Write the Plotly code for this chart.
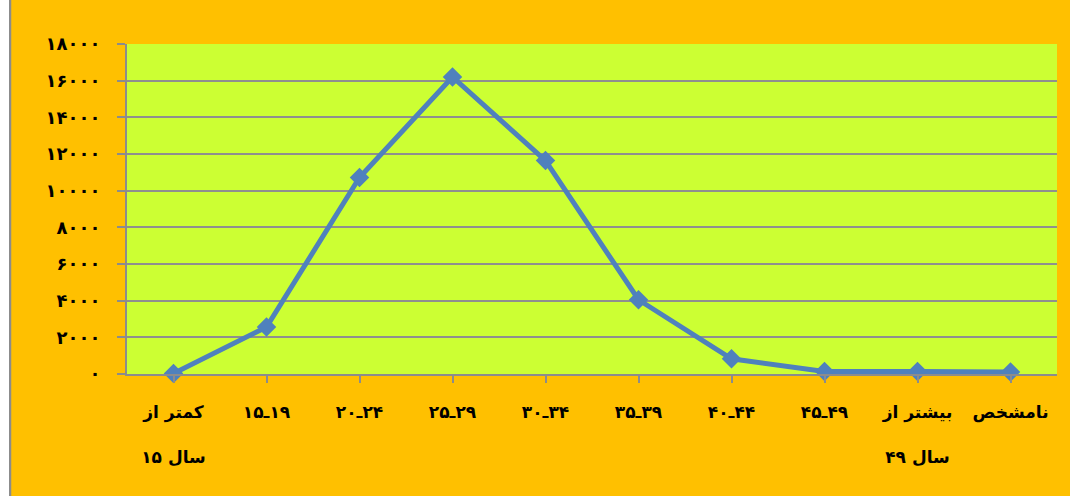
import plotly.graph_objects as go

categories = [
    "کمتر از<br><br>۱۵ سال",
    "\u202d۱۵ـ۱۹\u202c",
    "\u202d۲۰ـ۲۴\u202c",
    "\u202d۲۵ـ۲۹\u202c",
    "\u202d۳۰ـ۳۴\u202c",
    "\u202d۳۵ـ۳۹\u202c",
    "\u202d۴۰ـ۴۴\u202c",
    "\u202d۴۵ـ۴۹\u202c",
    "بیشتر از<br><br>۴۹ سال",
    "نامشخص",
]
values = [30, 2560, 10720, 16200, 11640, 4050, 830, 140, 130, 110]

y_tickvals = [0, 2000, 4000, 6000, 8000, 10000, 12000, 14000, 16000, 18000]
y_ticktext = ["۰", "۲۰۰۰", "۴۰۰۰", "۶۰۰۰", "۸۰۰۰", "۱۰۰۰۰", "۱۲۰۰۰", "۱۴۰۰۰", "۱۶۰۰۰", "۱۸۰۰۰"]

OFF = 9  # white strip at the left of the page
W, H = 1070 - OFF, 496
ML, MR, MT, MB = 127 - OFF, 13, 44, 122
PW, PH = W - ML - MR, H - MT - MB

fig = go.Figure()
fig.add_trace(go.Scatter(
    x=list(range(len(categories))),
    y=values,
    mode="lines+markers",
    line=dict(color="#4F81BD", width=5),
    marker=dict(symbol="diamond", size=15, color="#4F81BD"),
    cliponaxis=False,
    hoverinfo="skip",
))

font_main = "DejaVu Sans, Noto Sans, sans-serif"

def px_x(p):
    return (p - ML) / PW

def px_y(p):
    return (H - MB - p) / PH

fig.update_layout(
    width=W, height=H,
    margin=dict(l=ML, r=MR, t=MT, b=MB, pad=0),
    paper_bgcolor="#FFC000",
    plot_bgcolor="#CCFF33",
    showlegend=False,
    font=dict(family=font_main, size=16, color="#000000"),
    xaxis=dict(
        range=[-0.5, len(categories) - 0.5],
        tickmode="array",
        tickvals=list(range(len(categories))),
        ticktext=[f"<b>{c}</b>" for c in categories],
        tickangle=0,
        tickson="boundaries",
        ticks="outside", ticklen=7, tickcolor="#8C8C8C", tickwidth=1.5,
        showline=True, linecolor="#8C8C8C", linewidth=2,
        showgrid=False, zeroline=False,
        tickfont=dict(size=17, family=font_main, color="#000000"),
        ticklabelstandoff=15,
    ),
    yaxis=dict(
        range=[0, 18000],
        tickmode="array",
        tickvals=y_tickvals,
        ticktext=[f"<b>{t}</b>" for t in y_ticktext],
        ticks="outside", ticklen=8, tickcolor="#8C8C8C", tickwidth=1.5,
        showline=True, linecolor="#8C8C8C", linewidth=2,
        showgrid=True, gridcolor="#8F8F8F", gridwidth=2,
        zeroline=False,
        tickfont=dict(size=18, family=font_main, color="#000000"),
        ticklabelstandoff=13,
    ),
    shapes=[
        dict(type="line", xref="paper", yref="paper",
             x0=px_x(1), x1=px_x(1), y0=px_y(H + 5), y1=px_y(-5),
             line=dict(color="#8C8C8C", width=2.5), layer="above"),
    ],
)

post = (
    "document.body.style.margin='0';"
    "document.body.style.background='#FFFFFF';"
    "var gd=document.getElementsByClassName('plotly-graph-div')[0];"
    "if(gd){gd.style.marginLeft='%dpx';}" % OFF
)

fig.write_html("out.html", config={"displayModeBar": False}, post_script=post)
